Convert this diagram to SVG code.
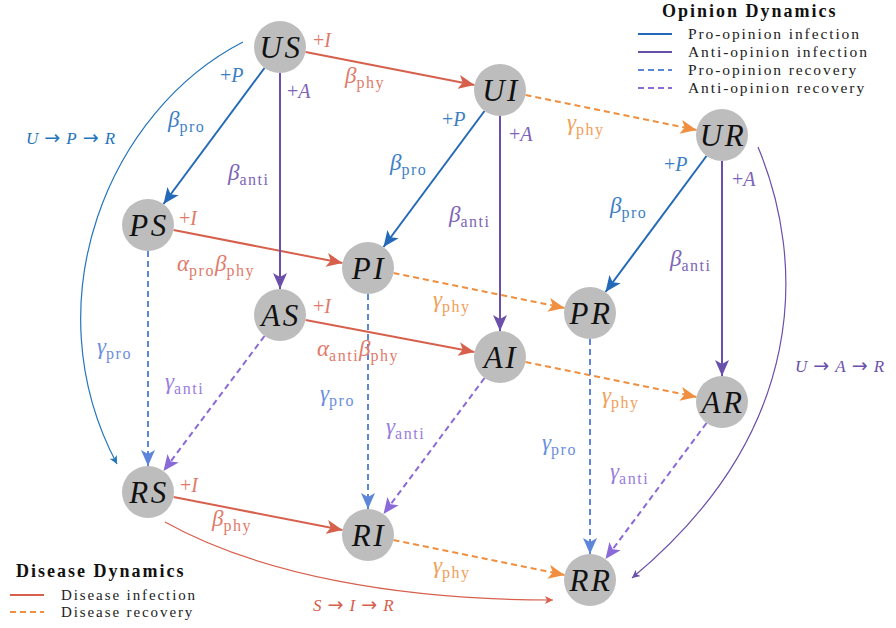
<svg xmlns="http://www.w3.org/2000/svg" width="896" height="628" viewBox="0 0 896 628">
<style>
.node circle{fill:#bdbdbd}
.node text{font-family:"Liberation Serif",serif;font-style:italic;font-size:31px;fill:#111;text-anchor:middle;letter-spacing:2.5px}
.e{fill:none;stroke-width:2}
.red{stroke:#d7604d}
.org{stroke:#ef8f3f;stroke-dasharray:6 4}
.blu{stroke:#2369b8}
.pur{stroke:#6a4fab}
.bld{stroke:#5d85d9;stroke-dasharray:6 4}
.pud{stroke:#8a6ad8;stroke-dasharray:6 4}
.lbl{font-family:"Liberation Serif",serif;font-style:italic;font-size:23px}
.sub{font-style:normal;font-size:16px;letter-spacing:1.5px}
.pl{font-family:"Liberation Serif",serif;font-style:italic;font-size:20px}
.up{font-style:normal}
.ar{font-family:"DejaVu Sans",sans-serif;font-style:normal;font-size:19px}
.tr{fill:#e07b6a}.to{fill:#f0a058}.tb{fill:#3d7fc6}.tp{fill:#7d64b8}.tbd{fill:#6b8fdd}.tpd{fill:#997ddf}
.leg{font-family:"Liberation Serif",serif;font-size:15.5px;letter-spacing:1.9px;fill:#222}
.legt{font-family:"Liberation Serif",serif;font-size:18px;font-weight:bold;letter-spacing:2px;fill:#111}
.path{font-family:"Liberation Serif",serif;font-style:italic;font-size:17px}
</style>
<defs>
<marker id="mr" markerUnits="userSpaceOnUse" markerWidth="17" markerHeight="14" refX="16" refY="7" orient="auto"><path d="M0,0 L16,7 L0,14 L4,7 z" fill="#d7604d"/></marker>
<marker id="mo" markerUnits="userSpaceOnUse" markerWidth="17" markerHeight="14" refX="16" refY="7" orient="auto"><path d="M0,0 L16,7 L0,14 L4,7 z" fill="#ef8f3f"/></marker>
<marker id="mb" markerUnits="userSpaceOnUse" markerWidth="17" markerHeight="14" refX="16" refY="7" orient="auto"><path d="M0,0 L16,7 L0,14 L4,7 z" fill="#2369b8"/></marker>
<marker id="mp" markerUnits="userSpaceOnUse" markerWidth="17" markerHeight="14" refX="16" refY="7" orient="auto"><path d="M0,0 L16,7 L0,14 L4,7 z" fill="#6a4fab"/></marker>
<marker id="mbd" markerUnits="userSpaceOnUse" markerWidth="17" markerHeight="14" refX="16" refY="7" orient="auto"><path d="M0,0 L16,7 L0,14 L4,7 z" fill="#5d85d9"/></marker>
<marker id="mpd" markerUnits="userSpaceOnUse" markerWidth="17" markerHeight="14" refX="16" refY="7" orient="auto"><path d="M0,0 L16,7 L0,14 L4,7 z" fill="#8a6ad8"/></marker>
<marker id="sb" markerUnits="userSpaceOnUse" markerWidth="9" markerHeight="8" refX="8" refY="4" orient="auto"><path d="M0,0 L8,4 L0,8 L2,4 z" fill="#2575bb"/></marker>
<marker id="sp" markerUnits="userSpaceOnUse" markerWidth="9" markerHeight="8" refX="8" refY="4" orient="auto"><path d="M0,0 L8,4 L0,8 L2,4 z" fill="#6a4fab"/></marker>
<marker id="sr" markerUnits="userSpaceOnUse" markerWidth="9" markerHeight="8" refX="8" refY="4" orient="auto"><path d="M0,0 L8,4 L0,8 L2,4 z" fill="#d7604d"/></marker>
</defs>

<g id="connectors">
<line class="e red" x1="305.5" y1="52" x2="474.5" y2="85" marker-end="url(#mr)"/>
<line class="e red" x1="173.5" y1="230" x2="342.5" y2="263" marker-end="url(#mr)"/>
<line class="e red" x1="305.5" y1="320" x2="474.5" y2="352" marker-end="url(#mr)"/>
<line class="e red" x1="173.5" y1="497" x2="342.5" y2="530" marker-end="url(#mr)"/>
<line class="e org" x1="525.5" y1="95" x2="696.5" y2="130" marker-end="url(#mo)"/>
<line class="e org" x1="393.5" y1="273" x2="564.5" y2="308" marker-end="url(#mo)"/>
<line class="e org" x1="525.5" y1="362" x2="696.5" y2="397" marker-end="url(#mo)"/>
<line class="e org" x1="393.5" y1="540" x2="564.5" y2="575" marker-end="url(#mo)"/>
<line class="e blu" x1="264.5" y1="68" x2="163.5" y2="204" marker-end="url(#mb)"/>
<line class="e blu" x1="484.5" y1="111" x2="383.5" y2="247" marker-end="url(#mb)"/>
<line class="e blu" x1="706.5" y1="156" x2="605.5" y2="292" marker-end="url(#mb)"/>
<line class="e pur" x1="280" y1="73" x2="280" y2="289" marker-end="url(#mp)"/>
<line class="e pur" x1="500" y1="116" x2="500" y2="331" marker-end="url(#mp)"/>
<line class="e pur" x1="722" y1="161" x2="722" y2="376" marker-end="url(#mp)"/>
<line class="e bld" x1="148" y1="251" x2="148" y2="466" marker-end="url(#mbd)"/>
<line class="e bld" x1="368" y1="294" x2="368" y2="509" marker-end="url(#mbd)"/>
<line class="e bld" x1="590" y1="339" x2="590" y2="554" marker-end="url(#mbd)"/>
<line class="e pud" x1="264.5" y1="336" x2="163.5" y2="471" marker-end="url(#mpd)"/>
<line class="e pud" x1="484.5" y1="378" x2="383.5" y2="514" marker-end="url(#mpd)"/>
<line class="e pud" x1="706.5" y1="423" x2="605.5" y2="559" marker-end="url(#mpd)"/>
<path d="M243,42 C110,110 30,300 117,464" fill="none" stroke="#2575bb" stroke-width="1.2" marker-end="url(#sb)"/>
<path d="M758,147 C805,260 810,430 632,578" fill="none" stroke="#6a4fab" stroke-width="1.2" marker-end="url(#sp)"/>
<path d="M165,522 C260,575 400,600 553,600" fill="none" stroke="#d7604d" stroke-width="1.2" marker-end="url(#sr)"/>
</g>

<g id="edge-labels">
<text class="pl tr" x="313" y="47"><tspan class="up">+</tspan>I</text>
<text class="lbl tr" x="345" y="83">β<tspan class="sub" dy="5">phy</tspan></text>
<text class="pl tb" x="220" y="82"><tspan class="up">+</tspan>P</text>
<text class="pl tp" x="287" y="98"><tspan class="up">+</tspan>A</text>
<text class="lbl tb" x="168" y="127">β<tspan class="sub" dy="5">pro</tspan></text>
<text class="lbl tp" x="228" y="180">β<tspan class="sub" dy="5">anti</tspan></text>

<text class="pl tb" x="442" y="126"><tspan class="up">+</tspan>P</text>
<text class="pl tp" x="509" y="141"><tspan class="up">+</tspan>A</text>
<text class="lbl tb" x="390" y="170">β<tspan class="sub" dy="5">pro</tspan></text>
<text class="lbl tp" x="449" y="222">β<tspan class="sub" dy="5">anti</tspan></text>
<text class="lbl to" x="567" y="130">γ<tspan class="sub" dy="5">phy</tspan></text>

<text class="pl tb" x="664" y="171"><tspan class="up">+</tspan>P</text>
<text class="pl tp" x="732" y="186"><tspan class="up">+</tspan>A</text>
<text class="lbl tb" x="610" y="213">β<tspan class="sub" dy="5">pro</tspan></text>
<text class="lbl tp" x="670" y="266">β<tspan class="sub" dy="5">anti</tspan></text>

<text class="pl tr" x="179" y="225"><tspan class="up">+</tspan>I</text>
<text class="lbl tr" x="177" y="271">α<tspan class="sub" dy="5">pro</tspan><tspan dy="-5">β</tspan><tspan class="sub" dy="5">phy</tspan></text>
<text class="lbl to" x="433" y="307">γ<tspan class="sub" dy="5">phy</tspan></text>

<text class="pl tr" x="313" y="313"><tspan class="up">+</tspan>I</text>
<text class="lbl tr" x="317" y="356">α<tspan class="sub" dy="5">anti</tspan><tspan dy="-5">β</tspan><tspan class="sub" dy="5">phy</tspan></text>
<text class="lbl to" x="602" y="403">γ<tspan class="sub" dy="5">phy</tspan></text>

<text class="lbl tbd" x="97" y="354">γ<tspan class="sub" dy="5">pro</tspan></text>
<text class="lbl tpd" x="165" y="389">γ<tspan class="sub" dy="5">anti</tspan></text>
<text class="lbl tbd" x="320" y="401">γ<tspan class="sub" dy="5">pro</tspan></text>
<text class="lbl tpd" x="386" y="434">γ<tspan class="sub" dy="5">anti</tspan></text>
<text class="lbl tbd" x="542" y="450">γ<tspan class="sub" dy="5">pro</tspan></text>
<text class="lbl tpd" x="610" y="479">γ<tspan class="sub" dy="5">anti</tspan></text>

<text class="pl tr" x="180" y="492"><tspan class="up">+</tspan>I</text>
<text class="lbl tr" x="212" y="526">β<tspan class="sub" dy="5">phy</tspan></text>
<text class="lbl to" x="433" y="573">γ<tspan class="sub" dy="5">phy</tspan></text>

<text class="path" x="26" y="144" fill="#2575bb">U<tspan class="ar"> → </tspan>P<tspan class="ar"> → </tspan>R</text>
<text class="path" x="795" y="372" fill="#6a4fab">U<tspan class="ar"> → </tspan>A<tspan class="ar"> → </tspan>R</text>
<text class="path" x="313" y="611" fill="#d7604d">S<tspan class="ar"> → </tspan>I<tspan class="ar"> → </tspan>R</text>
</g>

<g id="US" class="node"><circle cx="280" cy="47" r="26"/><text x="281" y="58">US</text></g>
<g id="UI" class="node"><circle cx="500" cy="90" r="26"/><text x="501" y="101">UI</text></g>
<g id="UR" class="node"><circle cx="722" cy="135" r="26"/><text x="723" y="146">UR</text></g>
<g id="PS" class="node"><circle cx="148" cy="225" r="26"/><text x="149" y="236">PS</text></g>
<g id="PI" class="node"><circle cx="368" cy="268" r="26"/><text x="369" y="279">PI</text></g>
<g id="PR" class="node"><circle cx="590" cy="313" r="26"/><text x="591" y="324">PR</text></g>
<g id="AS" class="node"><circle cx="280" cy="315" r="26"/><text x="281" y="326">AS</text></g>
<g id="AI" class="node"><circle cx="500" cy="357" r="26"/><text x="501" y="368">AI</text></g>
<g id="AR" class="node"><circle cx="722" cy="402" r="26"/><text x="723" y="413">AR</text></g>
<g id="RS" class="node"><circle cx="148" cy="492" r="26"/><text x="149" y="503">RS</text></g>
<g id="RI" class="node"><circle cx="368" cy="535" r="26"/><text x="369" y="546">RI</text></g>
<g id="RR" class="node"><circle cx="590" cy="580" r="26"/><text x="591" y="591">RR</text></g>

<g id="legend-opinion">
<text class="legt" x="662" y="17">Opinion Dynamics</text>
<line x1="638" y1="34" x2="672" y2="34" stroke="#2369b8" stroke-width="2"/>
<line x1="638" y1="52" x2="672" y2="52" stroke="#6a4fab" stroke-width="2"/>
<line x1="638" y1="70" x2="672" y2="70" stroke="#5d85d9" stroke-width="2" stroke-dasharray="6 4"/>
<line x1="638" y1="88" x2="672" y2="88" stroke="#8a6ad8" stroke-width="2" stroke-dasharray="6 4"/>
<text class="leg" x="688" y="39">Pro-opinion infection</text>
<text class="leg" x="688" y="57">Anti-opinion infection</text>
<text class="leg" x="688" y="75">Pro-opinion recovery</text>
<text class="leg" x="688" y="93">Anti-opinion recovery</text>
</g>

<g id="legend-disease">
<text class="legt" x="16" y="577">Disease Dynamics</text>
<line x1="10" y1="595" x2="44" y2="595" stroke="#d7604d" stroke-width="2"/>
<line x1="10" y1="612" x2="44" y2="612" stroke="#ef8f3f" stroke-width="2" stroke-dasharray="6 4"/>
<text class="leg" x="61" y="600" style="font-size:15px">Disease infection</text>
<text class="leg" x="61" y="617" style="font-size:15px">Disease recovery</text>
</g>
</svg>
